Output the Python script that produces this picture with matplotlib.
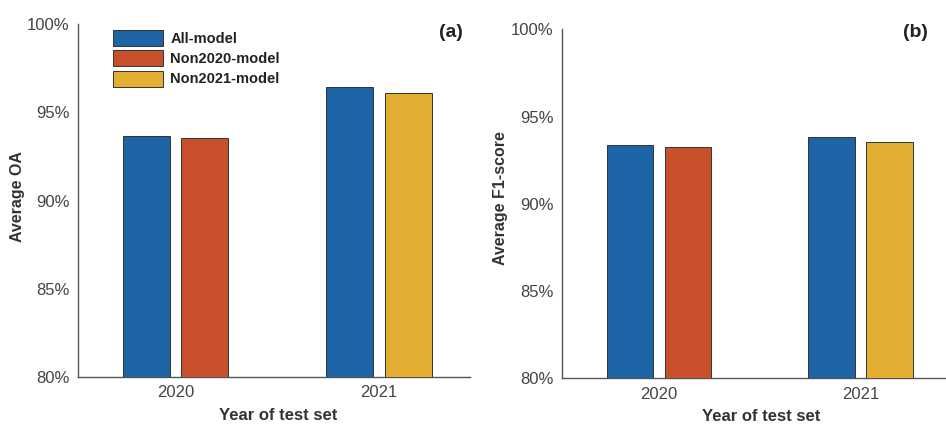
import matplotlib
matplotlib.use("Agg")
import matplotlib.pyplot as plt
from matplotlib.patches import Patch
import numpy as np

years = ["2020", "2021"]
series_names = ["All-model", "Non2020-model", "Non2021-model"]
colors = ["#1D64A6", "#C8502B", "#E3AE31"]

# Average OA (%) per test year: (All-model, second model)
oa_all = [93.65, 96.45]
oa_other = [93.52, 96.07]

# Average F1-score (%) per test year
f1_all = [93.35, 93.83]
f1_other = [93.27, 93.52]

# second bar in each group: Non2020-model for 2020, Non2021-model for 2021
other_series = [1, 2]

yticks = [80, 85, 90, 95, 100]
ytick_labels = ["80%", "85%", "90%", "95%", "100%"]

plt.rcParams["font.family"] = ["Liberation Sans", "DejaVu Sans"]

fig = plt.figure(figsize=(9.46, 4.25), dpi=100)
ax_a = fig.add_axes([0.0824, 0.1129, 0.4146, 0.8306])
ax_b = fig.add_axes([0.594, 0.110, 0.406, 0.821])

x = np.arange(len(years))
width = 0.232
offset = 0.144
spine_col = "#555555"
text_col = "#333333"


def draw_panel(ax, all_vals, other_vals, ylabel, tag, xlim, tag_pos, ylab_pos, xlab_pos):
    ax.bar(x - offset, all_vals, width, color=colors[0],
           edgecolor="#333333", linewidth=0.7, zorder=3)
    ax.bar(x + offset, other_vals, width,
           color=[colors[i] for i in other_series],
           edgecolor="#333333", linewidth=0.7, zorder=3)
    ax.set_ylim(80, 100)
    ax.set_xlim(*xlim)
    ax.set_yticks(yticks)
    ax.set_yticklabels(ytick_labels)
    ax.set_xticks(x)
    ax.set_xticklabels(years)
    ax.tick_params(length=0, labelsize=12, colors="#444444", pad=6)
    for s in ["top", "right"]:
        ax.spines[s].set_visible(False)
    for s in ["left", "bottom"]:
        ax.spines[s].set_color(spine_col)
        ax.spines[s].set_linewidth(1.0)
    yl = ax.set_ylabel(ylabel, fontsize=11.5, fontweight="bold", color=text_col)
    ax.yaxis.set_label_coords(*ylab_pos)
    yl.set_va("center")
    xl = ax.set_xlabel("Year of test set", fontsize=12, fontweight="bold", color=text_col)
    ax.xaxis.set_label_coords(*xlab_pos)
    xl.set_va("center")
    ax.text(tag_pos[0], tag_pos[1], tag, transform=ax.transAxes, ha="right", va="center",
            fontsize=14, fontweight="bold", color="#222222")


draw_panel(ax_a, oa_all, oa_other, "Average OA", "(a)", (-0.479, 1.447),
           (0.982, 0.975), (-0.153, 0.51), (0.51, -0.11))
draw_panel(ax_b, f1_all, f1_other, "Average F1-score", "(b)", (-0.481, 1.423),
           (0.953, 0.99), (-0.159, 0.516), (0.518, -0.111))

handles = [Patch(facecolor=c, edgecolor="#333333", linewidth=0.7) for c in colors]
leg = ax_a.legend(handles, series_names, loc="upper left",
                  bbox_to_anchor=(0.056, 1.02), frameon=False,
                  handlelength=3.43, handleheight=1.3, handletextpad=0.5,
                  labelspacing=0.3, prop={"weight": "bold", "size": 10.5})
for t in leg.get_texts():
    t.set_color("#222222")

fig.savefig("out.png", dpi=100)
